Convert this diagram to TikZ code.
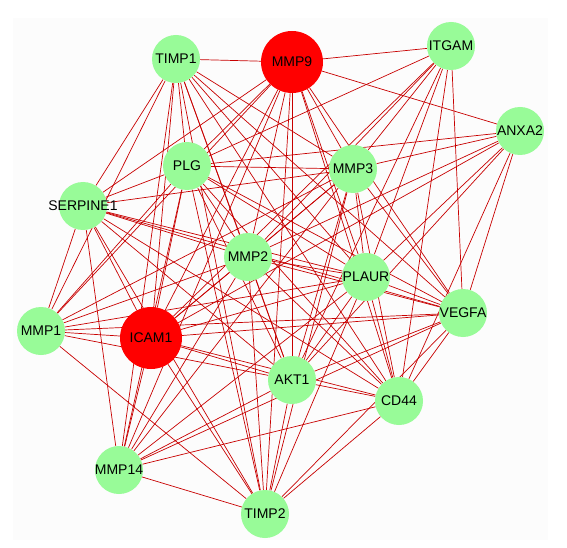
\documentclass[tikz,border=0pt]{standalone}
\usepackage{fontspec}
\setmainfont{Liberation Sans}
\usetikzlibrary{backgrounds}

\definecolor{genegreen}{RGB}{152,251,152}
\definecolor{linkred}{RGB}{200,0,0}
\definecolor{panel}{RGB}{252,252,252}

\begin{document}
\begin{tikzpicture}[
      x=1pt, y=-1pt,
      gene/.style={circle, fill=genegreen, minimum size=48pt, inner sep=0pt,
        label={[font=\fontsize{14}{15}\selectfont, inner sep=0pt]center:#1}},
      hub/.style={gene=#1, fill=red, minimum size=62pt},
      link/.style={draw=linkred, line width=0.7pt}
    ]
    \useasboundingbox (0,0) rectangle (567,548);

    % genes
    \node[gene=TIMP1] (TIMP1) at (176,59) {};
    \node[hub=MMP9] (MMP9) at (292,62) {};
    \node[gene=ITGAM] (ITGAM) at (451,46) {};
    \node[gene=ANXA2] (ANXA2) at (520,131) {};
    \node[gene=MMP3] (MMP3) at (353,169) {};
    \node[gene=PLG] (PLG) at (187,166) {};
    \node[gene=SERPINE1] (SERPINE1) at (83,206) {};
    \node[gene=MMP2] (MMP2) at (248,257) {};
    \node[gene=PLAUR] (PLAUR) at (366,277) {};
    \node[gene=VEGFA] (VEGFA) at (463,313) {};
    \node[gene=MMP1] (MMP1) at (41,331) {};
    \node[hub=ICAM1] (ICAM1) at (151,338) {};
    \node[gene=AKT1] (AKT1) at (292,380) {};
    \node[gene=CD44] (CD44) at (399,401) {};
    \node[gene=MMP14] (MMP14) at (119,470) {};
    \node[gene=TIMP2] (TIMP2) at (265,514) {};

    % interactions
    \begin{scope}[on background layer]
      \fill[panel] (13,18) rectangle (548,540);
      \foreach \a/\b in {
          MMP9/TIMP1, MMP9/ITGAM, MMP9/ANXA2, MMP9/MMP3, MMP9/PLG, MMP9/SERPINE1,
          MMP9/MMP2, MMP9/PLAUR, MMP9/VEGFA, MMP9/MMP1, MMP9/ICAM1, MMP9/AKT1,
          MMP9/CD44, MMP9/MMP14, MMP9/TIMP2,
          ICAM1/TIMP1, ICAM1/ITGAM, ICAM1/ANXA2, ICAM1/MMP3, ICAM1/PLG, ICAM1/SERPINE1,
          ICAM1/MMP2, ICAM1/PLAUR, ICAM1/VEGFA, ICAM1/MMP1, ICAM1/AKT1, ICAM1/CD44,
          ICAM1/MMP14, ICAM1/TIMP2,
          TIMP1/MMP3, TIMP1/PLG, TIMP1/SERPINE1, TIMP1/MMP2, TIMP1/PLAUR, TIMP1/VEGFA,
          TIMP1/MMP1, TIMP1/AKT1, TIMP1/CD44, TIMP1/MMP14, TIMP1/TIMP2,
          ITGAM/PLG, ITGAM/MMP2, ITGAM/MMP3, ITGAM/PLAUR, ITGAM/VEGFA, ITGAM/AKT1, ITGAM/CD44,
          ANXA2/MMP3, ANXA2/PLG, ANXA2/MMP2, ANXA2/PLAUR, ANXA2/VEGFA, ANXA2/AKT1, ANXA2/CD44,
          MMP3/PLG, MMP3/SERPINE1, MMP3/MMP2, MMP3/PLAUR, MMP3/VEGFA, MMP3/MMP1,
          MMP3/AKT1, MMP3/CD44, MMP3/MMP14, MMP3/TIMP2,
          PLG/SERPINE1, PLG/MMP2, PLG/PLAUR, PLG/VEGFA, PLG/MMP1, PLG/AKT1,
          PLG/CD44, PLG/MMP14, PLG/TIMP2,
          SERPINE1/MMP2, SERPINE1/PLAUR, SERPINE1/VEGFA, SERPINE1/MMP1, SERPINE1/AKT1,
          SERPINE1/CD44, SERPINE1/MMP14, SERPINE1/TIMP2,
          MMP2/PLAUR, MMP2/VEGFA, MMP2/MMP1, MMP2/AKT1, MMP2/CD44, MMP2/MMP14, MMP2/TIMP2,
          PLAUR/VEGFA, PLAUR/MMP1, PLAUR/AKT1, PLAUR/CD44, PLAUR/MMP14, PLAUR/TIMP2,
          VEGFA/MMP1, VEGFA/AKT1, VEGFA/CD44, VEGFA/MMP14, VEGFA/TIMP2,
          MMP1/AKT1, MMP1/TIMP2,
          AKT1/CD44, AKT1/MMP14, AKT1/TIMP2,
          CD44/MMP14, CD44/TIMP2,
          MMP14/TIMP2}
        \draw[link] (\a) -- (\b);
    \end{scope}
  \end{tikzpicture}
\end{document}
